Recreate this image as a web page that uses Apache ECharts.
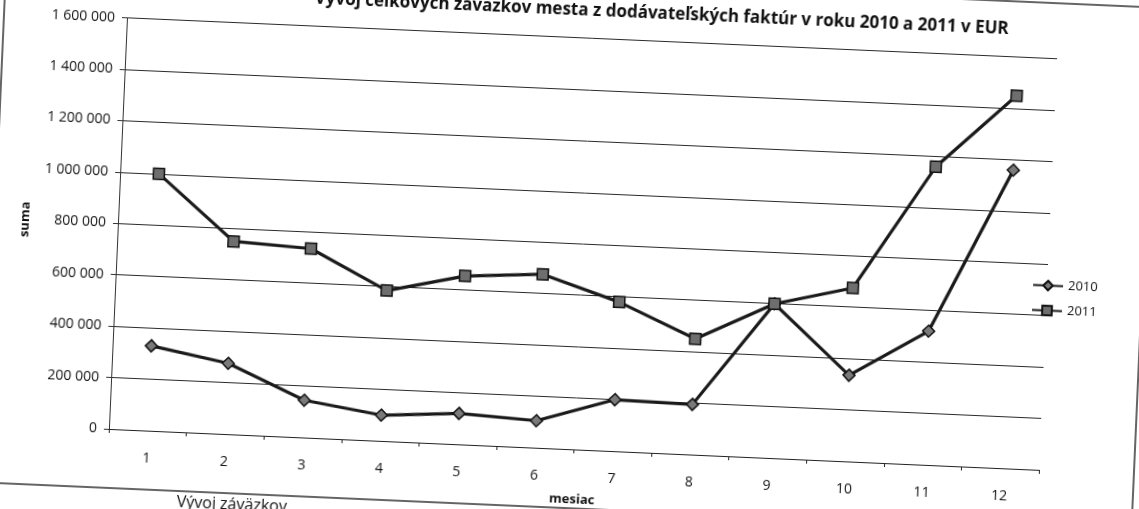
<!DOCTYPE html>
<html>
<head>
<meta charset="utf-8">
<script src="https://cdn.jsdelivr.net/npm/echarts@6/dist/echarts.min.js"></script>
<style>
html,body{margin:0;padding:0;background:#fff;overflow:hidden;width:1139px;height:509px;}
#wrap{position:absolute;left:-30px;top:-30px;width:1199px;height:569px;transform:rotate(2.52deg);transform-origin:50% 50%;}
#chart{width:1199px;height:569px;}
</style>
</head>
<body>
<div id="wrap"><div id="chart"></div></div>
<script>
const titleText = 'Vývoj celkových záväzkov mesta z dodávateľských faktúr v roku 2010 a 2011 v EUR';
const months = ['1','2','3','4','5','6','7','8','9','10','11','12'];
const seriesNames = ['2010','2011'];
const values2010 = [330000, 275000, 145000, 100000, 120000, 105000, 200000, 195000, 600000, 335000, 520000, 1160000];
const values2011 = [1000000, 750000, 735000, 585000, 655000, 675000, 580000, 450000, 600000, 675000, 1160000, 1450000];
const yAxisName = 'suma';
const xAxisName = 'mesiac';
const footerText = 'Vývoj záväzkov';

const FONT = '"Open Sans", "Liberation Sans", sans-serif';
const fmt = v => String(v).replace(/\B(?=(\d{3})+(?!\d))/g, ' ');

const chart = echarts.init(document.getElementById('chart'), null, {renderer: 'canvas'});
chart.setOption({
  animation: false,
  backgroundColor: '#fff',
  title: {
    text: titleText,
    left: 676, top: 27, textAlign: 'center',
    textStyle: {fontFamily: FONT, fontSize: 17, fontWeight: 'bold', color: '#111'}
  },
  legend: {
    orient: 'vertical', left: 1058, top: 283, itemGap: 12,
    itemWidth: 30, itemHeight: 12,
    textStyle: {fontFamily: FONT, fontSize: 13, color: '#111'},
    data: seriesNames
  },
  grid: {left: 147, top: 67.6, width: 931, height: 411.4, containLabel: false},
  xAxis: {
    type: 'category', data: months, boundaryGap: true,
    name: xAxisName, nameLocation: 'middle', nameGap: 44,
    nameTextStyle: {fontFamily: FONT, fontSize: 13, fontWeight: 'bold', color: '#111'},
    axisLine: {show: true, lineStyle: {color: '#222', width: 1}},
    axisTick: {show: true, length: 4, lineStyle: {color: '#222'}},
    axisLabel: {margin: 21, fontFamily: FONT, fontSize: 14, color: '#111'},
    splitLine: {show: false}
  },
  yAxis: {
    type: 'value', min: 0, max: 1600000, interval: 200000,
    name: yAxisName, nameLocation: 'middle', nameGap: 80, nameRotate: 90,
    nameTextStyle: {fontFamily: FONT, fontSize: 13, fontWeight: 'bold', color: '#111'},
    axisLine: {show: true, lineStyle: {color: '#333', width: 1}},
    axisTick: {show: true, length: 5, lineStyle: {color: '#333'}},
    axisLabel: {margin: 12, fontFamily: FONT, fontSize: 14, color: '#111', formatter: fmt},
    splitLine: {show: true, lineStyle: {color: '#2a2a2a', width: 1}}
  },
  series: [
    {
      name: seriesNames[0], type: 'line', data: values2010,
      symbol: 'diamond', symbolSize: 12,
      lineStyle: {color: '#1a1a1a', width: 3.2},
      itemStyle: {color: '#7a7a7a', borderColor: '#111', borderWidth: 1.5}
    },
    {
      name: seriesNames[1], type: 'line', data: values2011,
      symbol: 'rect', symbolSize: 11,
      lineStyle: {color: '#1a1a1a', width: 3.2},
      itemStyle: {color: '#6e6e6e', borderColor: '#111', borderWidth: 1.5}
    }
  ],
  graphic: [
    {type: 'rect', silent: true, z: -1,
     shape: {x: 24, y: 12, width: 1149, height: 526},
     style: {fill: 'none', stroke: '#333', lineWidth: 1.5}},
    {type: 'text', left: 218, top: 541,
     style: {text: footerText, font: '16px ' + FONT, fill: '#111'}}
  ]
});
</script>
</body>
</html>
